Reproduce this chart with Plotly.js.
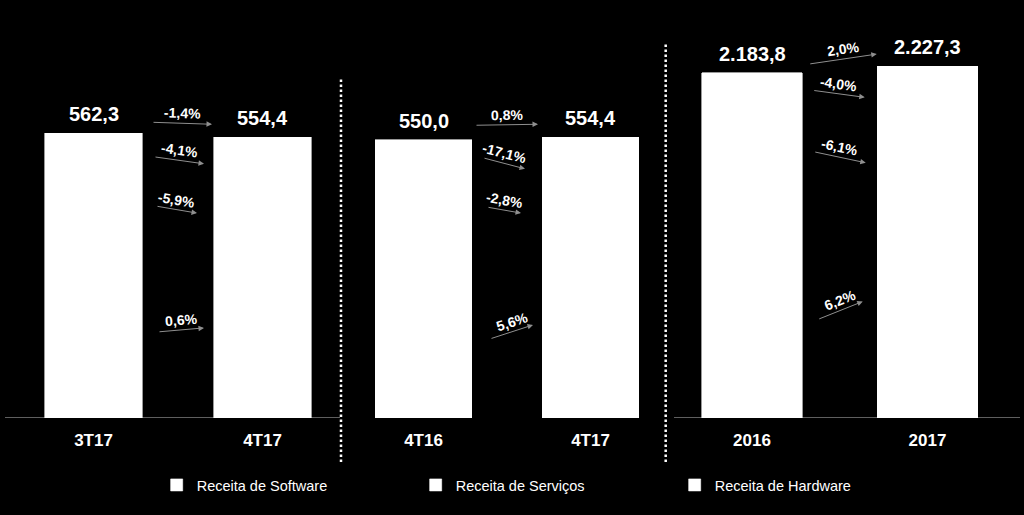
<!DOCTYPE html>
<html><head><meta charset="utf-8">
<script src="https://cdn.plot.ly/plotly-3.0.1.min.js"></script>
<style>html,body{margin:0;padding:0;background:#000;}#chart{width:1024px;height:515px;}</style>
</head><body><div id="chart"></div>
<script>
// ---- data ----
const seriesNames = ['Receita de Software', 'Receita de Serviços', 'Receita de Hardware'];

const categoriesQ = ['3T17', '4T17'];
const softwareQ = [373.4, 375.6];
const servicesQ = [133.1, 125.3];
const hardwareQ = [55.8, 53.5];
const growthQ = ['-1,4%', '-4,1%', '-5,9%', '0,6%'];   // total, hardware, serviços, software

const categoriesYoY = ['4T16', '4T17'];
const softwareYoY = [355.7, 375.6];
const servicesYoY = [128.8, 125.3];
const hardwareYoY = [65.5, 53.5];
const growthYoY = ['0,8%', '-17,1%', '-2,8%', '5,6%'];

const categoriesYear = ['2016', '2017'];
const softwareYear = [1388.8, 1474.9];
const servicesYear = [515.0, 483.6];
const hardwareYear = [280.0, 268.8];
const growthYear = ['2,0%', '-4,0%', '-6,1%', '6,2%'];

// ---- styling (arrow placement: [headDx, length, tailDy, headShift] in px) ----
const arrowStyleQ = [[34, 60, -2, -13], [26, 50, -7, 13], [19, 41, -7, 17], [26, 46, 4, 5]];
const arrowStyleYoY = [[31, 63, 1, -13], [18, 42, -11, 18], [14, 34, -6, 17], [26, 43, 14, 2]];
const arrowStyleYear = [[37, 68, 10, -12], [25, 52, -7, 10], [26, 52, -11, 16], [23, 45, 18, 0]];

const W = 1024;
const panels = [
  {cats: categoriesQ, sw: softwareQ, sv: servicesQ, hw: hardwareQ, growth: growthQ, style: arrowStyleQ, xa: 'x', ya: 'y', dom: [9, 347]},
  {cats: categoriesYoY, sw: softwareYoY, sv: servicesYoY, hw: hardwareYoY, growth: growthYoY, style: arrowStyleYoY, xa: 'x2', ya: 'y', dom: [340, 674]},
  {cats: categoriesYear, sw: softwareYear, sv: servicesYear, hw: hardwareYear, growth: growthYear, style: arrowStyleYear, xa: 'x3', ya: 'y2', dom: [664.25, 1015.25]}
];

function fmt(v) {
  const s = v.toFixed(1).split('.');
  return s[0].replace(/\B(?=(\d{3})+(?!\d))/g, '.') + ',' + s[1];
}

const bold = {family: 'Liberation Sans, Arial, sans-serif', weight: 'bold', color: '#ffffff'};
const traces = [];
const annotations = [];

panels.forEach((p, pi) => {
  const segs = [p.sw, p.sv, p.hw];
  segs.forEach((vals, si) => {
    traces.push({
      type: 'bar', x: p.cats, y: vals, name: seriesNames[si],
      xaxis: p.xa, yaxis: p.ya, legendgroup: seriesNames[si], showlegend: pi === 0,
      marker: {color: '#ffffff', line: {color: '#ffffff', width: 0.6}},
      hoverinfo: 'skip'
    });
  });
  const totals = p.cats.map((c, i) => p.sw[i] + p.sv[i] + p.hw[i]);
  totals.forEach((t, i) => {
    annotations.push({
      xref: p.xa, yref: p.ya, x: i, y: t, yshift: 19, yanchor: 'middle',
      text: fmt(t), showarrow: false, font: Object.assign({size: 20}, bold)
    });
  });
  // head points on the right bar: total, hardware mid, services mid, software mid
  const heads = [
    totals[1],
    p.sw[1] + p.sv[1] + p.hw[1] / 2,
    p.sw[1] + p.sv[1] / 2,
    p.sw[1] / 2
  ];
  heads.forEach((hy, r) => {
    const [hdx, len, tdy, hs] = p.style[r];
    annotations.push({
      xref: p.xa, yref: p.ya, x: 0.5, y: hy, xshift: hdx, yshift: -hs,
      text: '', showarrow: true, axref: 'pixel', ayref: 'pixel', ax: -len, ay: tdy,
      arrowhead: 2, arrowsize: 1.1, arrowwidth: 1, arrowcolor: '#8f8f8f', standoff: 0, startstandoff: 0
    });
    const ang = Math.atan2(-tdy, len) * 180 / Math.PI;
    annotations.push({
      xref: p.xa, yref: p.ya, x: 0.5, y: hy, xshift: hdx - len / 2, yshift: -(hs + tdy / 2 - 10),
      text: p.growth[r], showarrow: false, textangle: ang,
      font: Object.assign({size: 14}, bold)
    });
  });
});

const H = 398; // plot height px (baseline at 418)
const sepLines = [341, 665.7];
const shapes = [
  {type: 'line', xref: 'paper', yref: 'y', x0: 5 / W, x1: 1020 / W, y0: 0, y1: 0,
   line: {color: '#7f7f7f', width: 1.5}, layer: 'below'},
  {type: 'line', xref: 'paper', yref: 'paper', x0: sepLines[0] / W, x1: sepLines[0] / W,
   y0: (418 - 462) / H, y1: (418 - 77) / H, line: {color: '#ffffff', width: 2.5, dash: '2.5px,2.5px'}},
  {type: 'line', xref: 'paper', yref: 'paper', x0: sepLines[1] / W, x1: sepLines[1] / W,
   y0: (418 - 462) / H, y1: (418 - 42) / H, line: {color: '#ffffff', width: 2.5, dash: '2.5px,2.5px'}}
];

function xax(dom, anchor) {
  return {
    domain: [dom[0] / W, dom[1] / W], anchor: anchor, type: 'category', range: [-0.5, 1.5],
    showline: false, showgrid: false, zeroline: false, ticks: '', ticklabelstandoff: 10,
    tickfont: Object.assign({size: 17}, bold), fixedrange: true
  };
}

const layout = {
  width: 1024, height: 515,
  paper_bgcolor: '#000000', plot_bgcolor: '#000000',
  margin: {l: 0, r: 0, t: 20, b: 97},
  barmode: 'stack', bargap: 0.425,
  xaxis: xax(panels[0].dom, 'y'),
  xaxis2: xax(panels[1].dom, 'y'),
  xaxis3: xax(panels[2].dom, 'y2'),
  yaxis: {range: [0, 786], visible: false, fixedrange: true},
  yaxis2: {range: [0, 2519], visible: false, anchor: 'x3', fixedrange: true},
  showlegend: true,
  legend: {
    orientation: 'h', xref: 'paper', yref: 'paper', x: 0.153, xanchor: 'left',
    y: (418 - 485) / H, yanchor: 'middle', entrywidth: 214, entrywidthmode: 'pixels',
    bgcolor: 'rgba(0,0,0,0)',
    font: {family: 'Liberation Sans Narrow, Arial Narrow, Liberation Sans, Arial, sans-serif', size: 14.5, color: '#ffffff'}
  },
  annotations: annotations,
  shapes: shapes
};

Plotly.newPlot('chart', traces, layout, {staticPlot: true, displayModeBar: false});
</script>
</body></html>
